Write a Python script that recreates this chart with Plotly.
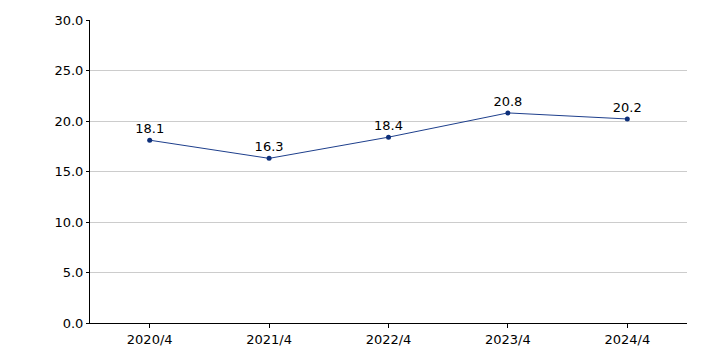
import plotly.graph_objects as go

categories = ["2020/4", "2021/4", "2022/4", "2023/4", "2024/4"]
values = [18.1, 16.3, 18.4, 20.8, 20.2]
y_ticks = [0, 5, 10, 15, 20, 25, 30]

fig = go.Figure()
fig.add_trace(go.Scatter(
    x=categories, y=values, mode="lines+markers+text",
    line=dict(color="#1e3f8c", width=1),
    marker=dict(color="#0d2f7a", size=5),
    text=[f"{v:.1f}" for v in values], textposition="top center",
    textfont=dict(size=13, color="#000000"),
    cliponaxis=False, hoverinfo="skip",
))
fig.update_layout(
    width=706, height=353,
    margin=dict(l=90, r=19, t=20, b=30),
    paper_bgcolor="white", plot_bgcolor="white",
    font=dict(family="DejaVu Sans", size=13, color="#000000"),
    showlegend=False,
)
fig.update_xaxes(
    type="category", range=[-0.5, 4.5], automargin=False,
    showline=True, linecolor="#000000", linewidth=1,
    ticks="outside", ticklen=4, tickcolor="#000000",
    showgrid=False, tickfont=dict(size=13),
)
fig.update_yaxes(
    range=[0, 30], tickvals=y_ticks, automargin=False,
    ticktext=[f"{v:.1f}" for v in y_ticks],
    showline=True, linecolor="#000000", linewidth=1,
    ticks="outside", ticklen=3, tickcolor="#000000",
    showgrid=True, gridcolor="#cccccc", gridwidth=1,
    zeroline=False, tickfont=dict(size=13),
)
fig.write_html("out.html")
